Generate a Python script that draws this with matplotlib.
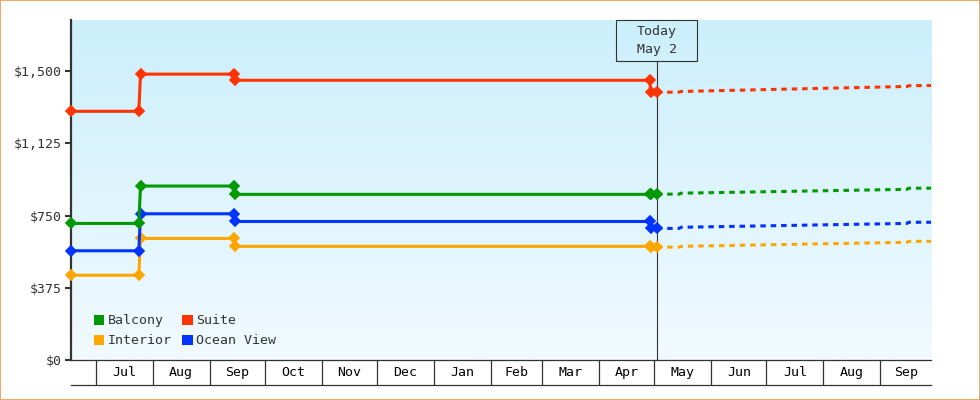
import matplotlib
matplotlib.use("Agg")
import matplotlib.pyplot as plt
import matplotlib.dates as mdates
import matplotlib.transforms as mtransforms
from matplotlib.patches import Patch, Rectangle
import numpy as np
import pandas as pd

# ---- data ----
hist_dates = pd.to_datetime([
    "2022-06-17 12:00", "2022-07-24 10:00", "2022-07-25 08:00",
    "2022-09-14 08:00", "2022-09-14 14:00", "2023-04-28 12:00",
    "2023-04-29 00:00", "2023-05-02 08:00",
])

fc_dates = pd.to_datetime([
    "2023-05-02 08:00", "2023-05-14 12:00", "2023-05-15 12:00",
    "2023-09-15 12:00", "2023-09-16 12:00", "2023-09-28 14:00",
])

suite_hist = [1291, 1291, 1484, 1484, 1452, 1452, 1389, 1389]
balcony_hist = [709, 709, 903, 903, 860, 860, 860, 860]
ocean_hist = [567, 567, 759, 759, 719, 719, 683, 683]
interior_hist = [440, 440, 631, 631, 590, 590, 587, 586]

suite_fc = [1389, 1391, 1394, 1420, 1424, 1425]
balcony_fc = [861, 861, 866, 886, 892, 892]
ocean_fc = [683, 683, 689, 709, 715, 715]
interior_fc = [586, 586, 590, 611, 616, 616]

series = ["Balcony", "Interior", "Suite", "Ocean View"]
colors = {"Balcony": "#009900", "Interior": "#FFA500",
          "Suite": "#FF3300", "Ocean View": "#0033FF"}
hist = {"Balcony": balcony_hist, "Interior": interior_hist,
        "Suite": suite_hist, "Ocean View": ocean_hist}
fc = {"Balcony": balcony_fc, "Interior": interior_fc,
      "Suite": suite_fc, "Ocean View": ocean_fc}

today = pd.Timestamp("2023-05-02 08:00")
today_label = "Today\nMay 2"
x_start = pd.Timestamp("2022-06-17 12:00")
x_end = pd.Timestamp("2023-09-28 14:00")
y_ticks = [0, 375, 750, 1125, 1500]
y_max = 1765

# ---- figure ----
plt.rcParams["font.family"] = ["DejaVu Sans Mono"]
plt.rcParams["font.size"] = 9.5
dark = "#333333"

fig = plt.figure(figsize=(9.8, 4.0), dpi=100)
fig.patches.append(Rectangle((0, 0), 1, 1, transform=fig.transFigure,
                             fill=False, edgecolor="#E8AA6A", linewidth=1.5))

ax = fig.add_axes([71 / 980, 40 / 400, 860 / 980, 340 / 400])
band = fig.add_axes([71 / 980, 15 / 400, 860 / 980, 25 / 400], sharex=ax)

# gradient background
grad = np.linspace(0, 1, 256).reshape(-1, 1)
top_c = np.array([204, 239, 252]) / 255
bot_c = np.array([241, 250, 255]) / 255
img = top_c * (1 - grad)[:, :, None] + bot_c * grad[:, :, None]
ax.imshow(img, extent=[0, 1, 0, 1], transform=ax.transAxes,
          aspect="auto", zorder=0)

for name in ["Interior", "Ocean View", "Balcony", "Suite"]:
    c = colors[name]
    ax.plot(hist_dates, hist[name], color=c, lw=2.2, marker="D", ms=5,
            mew=1.2, mec=c, zorder=3, clip_on=False)
    ax.plot(fc_dates, fc[name], color=c, lw=2.2, dashes=(1.8, 1.6),
            zorder=3, clip_on=False)

ax.set_xlim(mdates.date2num(x_start), mdates.date2num(x_end))
ax.set_ylim(0, y_max)
ax.set_yticks(y_ticks)
ax.set_yticklabels(["${:,}".format(v) for v in y_ticks])
ax.tick_params(axis="y", length=4.5, width=1.5, color=dark, labelcolor=dark, pad=2)
ax.tick_params(axis="x", bottom=False, labelbottom=False)
for s in ["top", "right", "bottom"]:
    ax.spines[s].set_visible(False)
ax.spines["left"].set_color(dark)
ax.spines["left"].set_linewidth(1.6)

# today marker
box_h = 41 / 340
blend = mtransforms.blended_transform_factory(ax.transData, ax.transAxes)
ax.plot([mdates.date2num(today)] * 2, [0, 1 - box_h], transform=blend,
        color=dark, lw=0.8, zorder=2)
px_per_day = 860 / (mdates.date2num(x_end) - mdates.date2num(x_start))
box_w = 81 / px_per_day
ax.add_patch(Rectangle((mdates.date2num(today) - box_w / 2, 1 - box_h), box_w, box_h,
                       transform=blend, fill=False, edgecolor=dark, lw=0.8,
                       clip_on=False, zorder=4))
ax.text(mdates.date2num(today), 1 - box_h / 2, today_label, transform=blend,
        ha="center", va="center", color=dark, linespacing=1.5, zorder=5)

# legend
handles = [Patch(facecolor=colors[n], edgecolor="none", label=n) for n in series]
ax.legend(handles=handles, ncol=2, loc="lower left",
          bbox_to_anchor=(16 / 860, 6 / 340), frameon=False, borderpad=0,
          handlelength=0.8, handleheight=0.8, handletextpad=0.25,
          columnspacing=0.8, labelspacing=0.55, labelcolor=dark)

# month band
band.set_ylim(0, 1)
band.set_yticks([])
band.tick_params(axis="x", bottom=False, labelbottom=False)
for s in ["left", "right"]:
    band.spines[s].set_visible(False)
for s in ["top", "bottom"]:
    band.spines[s].set_color(dark)
    band.spines[s].set_linewidth(0.9)
band.patch.set_alpha(0)

month_starts = pd.date_range(x_start.normalize(), x_end, freq="MS")
edges = [x_start] + list(month_starts) + [x_end]
for m in month_starts:
    band.axvline(mdates.date2num(m), color=dark, lw=0.9)
for a, b in zip(edges[:-1], edges[1:]):
    if (b - a).days < 20:
        continue
    mid = mdates.date2num(a) + (mdates.date2num(b) - mdates.date2num(a)) / 2
    band.text(mid, 0.5, a.strftime("%b"), ha="center", va="center", color="black")

fig.savefig("out.png", dpi=100)
